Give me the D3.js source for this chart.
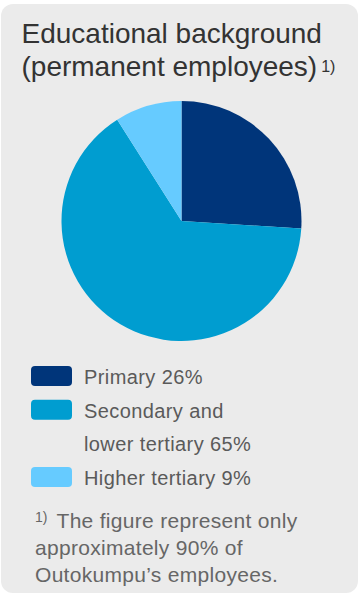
<!DOCTYPE html>
<html>
<head>
<meta charset="utf-8">
<script src="https://cdn.jsdelivr.net/npm/d3@7/dist/d3.min.js"></script>
<style>
  html, body { margin: 0; padding: 0; background: #ffffff; }
  svg { display: block; font-family: "Liberation Sans", Arial, Helvetica, sans-serif; }
</style>
</head>
<body>
<svg id="chart" width="361" height="595"></svg>
<script>
// Education breakdown of permanent employees (%)
const categories = ["Primary", "Secondary and lower tertiary", "Higher tertiary"];
const values = [26, 65, 9];
const colors = ["#00357a", "#009dd0", "#66cbff"];
// legend label lines per category (value appended to the last line)
const legendLines = [["Primary"], ["Secondary and", "lower tertiary"], ["Higher tertiary"]];
const titleLines = ["Educational background", "(permanent employees)"];
const footnoteMark = "1)";
const footnoteLines = ["The figure represent only", "approximately 90% of", "Outokumpu\u2019s employees."];

const svg = d3.select("#chart");

// panel
svg.append("rect")
  .attr("x", 1).attr("y", 4)
  .attr("width", 357).attr("height", 589)
  .attr("rx", 12).attr("ry", 12)
  .attr("fill", "#ebebeb");

// title
const title = svg.append("text")
  .attr("x", 21.5).attr("y", 43)
  .attr("font-size", 28).attr("fill", "#333333");
title.append("tspan").attr("x", 21.5).attr("y", 43).text(titleLines[0]);
title.append("tspan").attr("x", 21.5).attr("y", 76).text(titleLines[1]);
title.append("tspan").attr("font-size", 16).attr("dx", 4).attr("y", 72).text(footnoteMark);

// pie
const cx = 181.5, cy = 221, r = 120;
const pie = d3.pie().sort(null).value(d => d)(values);
const arc = d3.arc().innerRadius(0).outerRadius(r);
svg.append("g")
  .attr("transform", `translate(${cx},${cy})`)
  .selectAll("path")
  .data(pie)
  .join("path")
  .attr("d", arc)
  .attr("fill", (d, i) => colors[i]);

// legend
const rowH = 33.7;
let row = 0;
const legend = svg.append("g");
categories.forEach((c, i) => {
  const top = 366 + row * rowH;
  legend.append("rect")
    .attr("x", 31).attr("y", top)
    .attr("width", 41).attr("height", 20)
    .attr("rx", 4).attr("ry", 4)
    .attr("fill", colors[i]);
  legendLines[i].forEach((line, j) => {
    const txt = j === legendLines[i].length - 1 ? `${line} ${values[i]}%` : line;
    legend.append("text")
      .attr("x", 84).attr("y", 384 + (row + j) * rowH)
      .attr("font-size", 20).attr("letter-spacing", 0.4)
      .attr("fill", "#5a5a5a")
      .text(txt);
  });
  row += legendLines[i].length;
});

// footnote
const fn = svg.append("g").attr("fill", "#666666");
fn.append("text")
  .attr("x", 35).attr("y", 521.5)
  .attr("font-size", 14)
  .text(footnoteMark);
footnoteLines.forEach((line, i) => {
  fn.append("text")
    .attr("x", i === 0 ? 56.5 : 35)
    .attr("y", 528.3 + i * 26.7)
    .attr("font-size", 21).attr("letter-spacing", 0.3)
    .text(line);
});
</script>
</body>
</html>
